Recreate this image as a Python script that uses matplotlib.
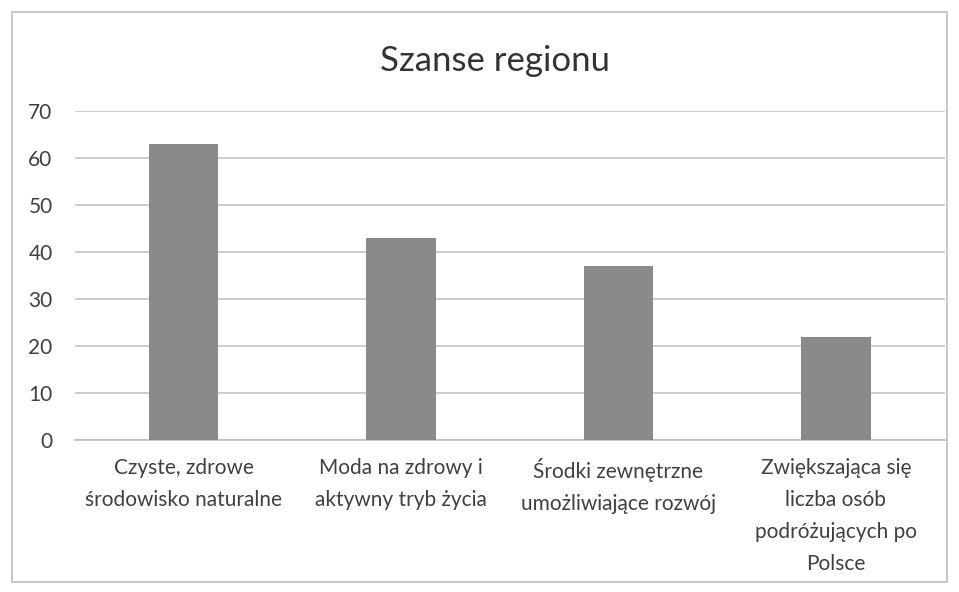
import matplotlib.pyplot as plt
from matplotlib.patches import Rectangle

categories = ['Czyste, zdrowe\nśrodowisko naturalne',
              'Moda na zdrowy i\naktywny tryb życia',
              'Środki zewnętrzne\numożliwiające rozwój',
              'Zwiększająca się\nliczba osób\npodróżujących po\nPolsce']
values = [63, 43, 37, 22]
yticks = [0, 10, 20, 30, 40, 50, 60, 70]

plt.rcParams['font.family'] = ['Lato', 'DejaVu Sans']

fig = plt.figure(figsize=(9.59, 5.92), dpi=100)
ax = fig.add_axes([0.078, 0.257, 0.907, 0.555])

# chart border
fig.patches.append(Rectangle((0.013, 0.017), 0.975, 0.963, transform=fig.transFigure,
                             fill=False, edgecolor='#bdbdbd', linewidth=1.2))

x = range(len(values))
ax.bar(x, values, width=0.32, color='#8a8a8a', zorder=3)

ax.set_ylim(0, 70)
ax.set_xlim(-0.5, len(values) - 0.5)
ax.set_yticks(yticks)
ax.set_xticks(list(x))
ax.set_xticklabels(categories, fontsize=15, color='#404040', linespacing=1.75)
ax.tick_params(axis='y', labelsize=15, labelcolor='#404040', length=0, pad=16)
ax.tick_params(axis='x', length=0, pad=13)

ax.grid(axis='y', color='#c8c8c8', linewidth=1.3, zorder=0)
for s in ['top', 'right', 'left']:
    ax.spines[s].set_visible(False)
ax.spines['bottom'].set_color('#bfbfbf')
ax.spines['bottom'].set_linewidth(1.3)

fig.text(0.516, 0.897, 'Szanse regionu', ha='center', va='center', fontsize=25, color='#333333')

fig.savefig('out.png', dpi=100)
